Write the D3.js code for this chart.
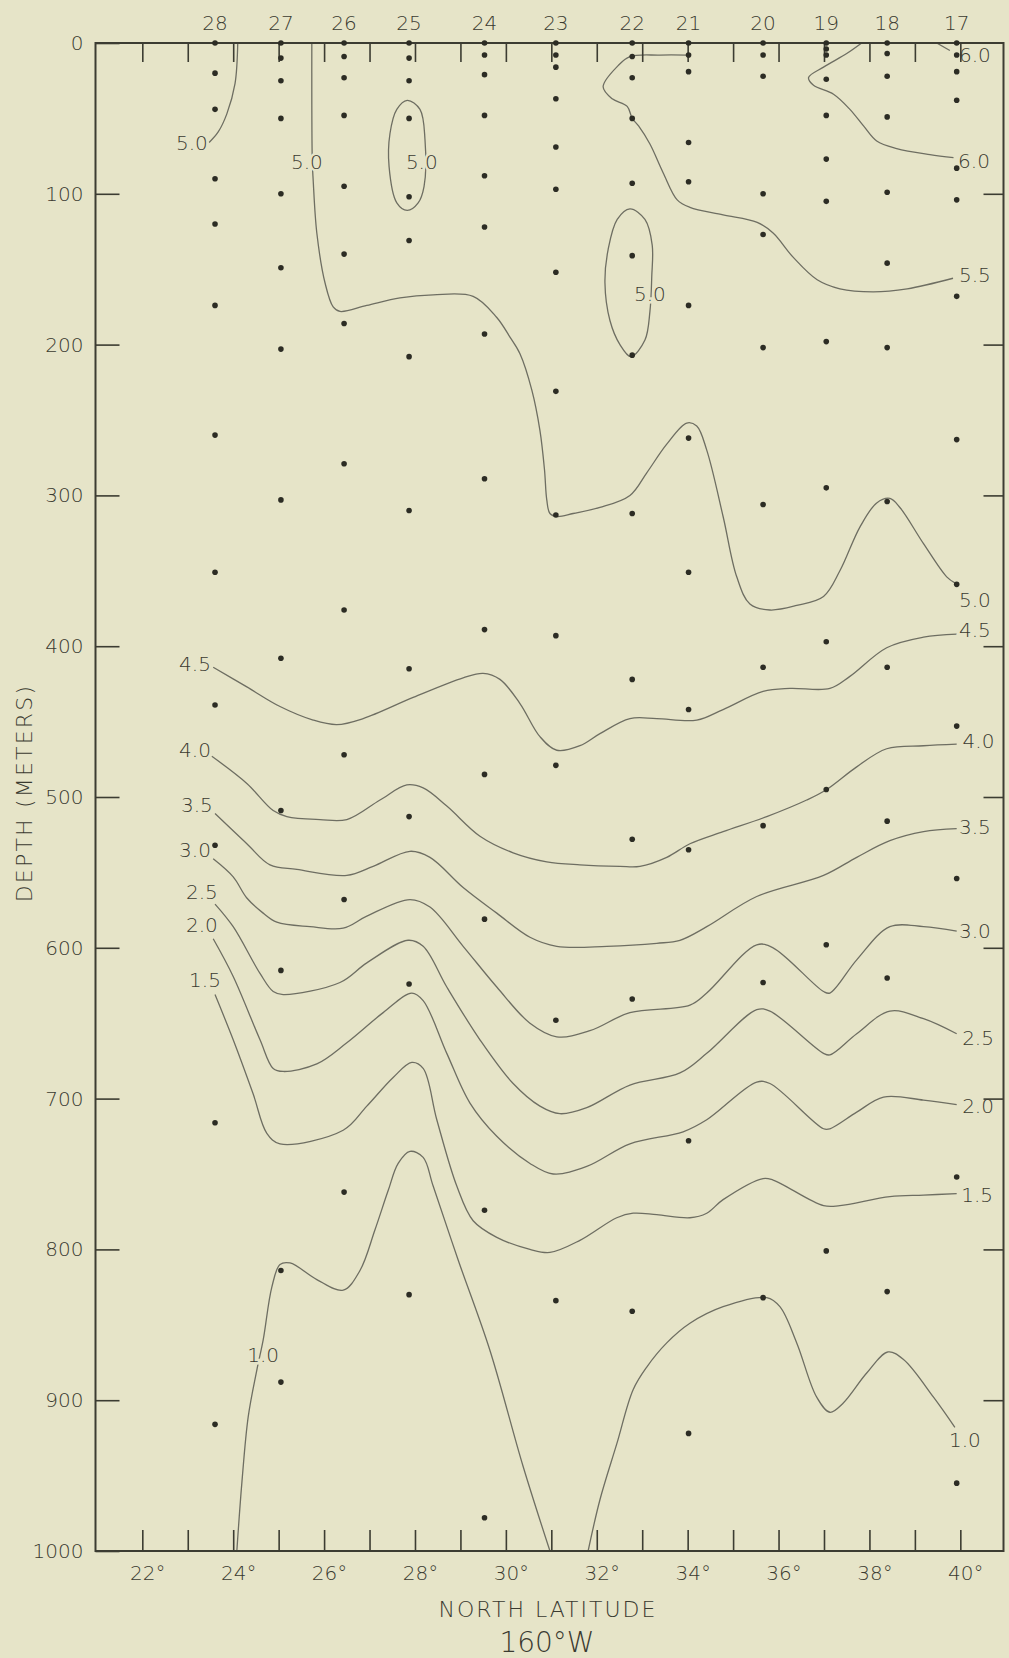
<!DOCTYPE html>
<html><head><meta charset="utf-8">
<script src="https://cdn.jsdelivr.net/npm/d3@7"></script>
<style>
html,body{margin:0;padding:0;background:#e6e4c8;}
svg{display:block;}
text{font-family:"DejaVu Sans",sans-serif;font-weight:200;fill:#3a3a30;}
</style></head><body>
<svg id="chart" width="1009" height="1658"></svg>
<script>
// ---------- data ----------
const stationIds  = [28, 27, 26, 25, 24, 23, 22, 21, 20, 19, 18, 17];
const stationLat  = [23.60, 25.05, 26.44, 27.87, 29.53, 31.10, 32.78, 34.02, 35.66, 37.05, 38.39, 39.92];
const sampleDepths = [
  [0, 20, 44, 90, 120, 174, 260, 351, 439, 532, 716, 916],
  [0, 10, 25, 50, 100, 149, 203, 303, 408, 509, 615, 814, 888],
  [0, 9, 23, 48, 95, 140, 186, 279, 376, 472, 568, 762],
  [0, 10, 25, 50, 102, 131, 208, 310, 415, 513, 624, 830],
  [0, 8, 21, 48, 88, 122, 193, 289, 389, 485, 581, 774, 978],
  [0, 8, 16, 37, 69, 97, 152, 231, 313, 393, 479, 648, 834],
  [0, 9, 23, 50, 93, 141, 207, 312, 422, 528, 634, 841],
  [0, 8, 19, 66, 92, 174, 262, 351, 442, 535, 728, 922],
  [0, 8, 22, 100, 127, 202, 306, 414, 519, 623, 832],
  [0, 4, 8, 24, 48, 77, 105, 198, 295, 397, 495, 598, 801],
  [0, 7, 22, 49, 99, 146, 202, 304, 414, 516, 620, 828],
  [0, 8, 19, 38, 83, 104, 168, 263, 359, 453, 554, 752, 955]
];
const depthTicks = [0, 100, 200, 300, 400, 500, 600, 700, 800, 900, 1000];
const latLabelTicks = [22, 24, 26, 28, 30, 32, 34, 36, 38, 40];
const latMinorTicks = [22, 23, 24, 25, 26, 27, 28, 29, 30, 31, 32, 33, 34, 35, 36, 37, 38, 39, 40];
const rightTicks = [100, 200, 300, 400, 500, 600, 700, 800, 900];

// isotherms: [latitude, depth]
const iso50a = [[24.10,0],[24.04,27],[23.86,47],[23.67,59],[23.47,66]];
const iso50b = [[25.73,0],[25.74,78],[25.76,91],[25.84,126],[26.02,159],[26.20,175],[26.35,178],[26.94,174],[27.67,169],[28.40,167],[29.28,168],[29.80,182],[30.09,195],[30.31,206],[30.57,230],[30.75,257],[30.85,283],[30.90,303],[30.97,312],[31.13,314],[31.48,312],[32.07,308],[32.73,300],[33.10,285],[33.54,266],[33.98,252],[34.20,254],[34.42,270],[34.78,314],[35.08,354],[35.37,372],[35.81,376],[36.40,373],[36.99,367],[37.35,350],[37.79,321],[38.16,305],[38.45,302],[38.67,308],[39.19,332],[39.70,354],[39.88,358]];
const iso50c = [[27.83,38],[28.11,44],[28.22,64],[28.20,95],[28.07,106],[27.83,111],[27.60,106],[27.43,82],[27.45,60],[27.60,44]];
const iso50d = [[32.73,110],[33.06,117],[33.22,134],[33.21,155],[33.17,178],[33.06,197],[32.75,208],[32.51,200],[32.29,184],[32.18,159],[32.25,137],[32.45,117]];
const iso55  = [[33.97,8],[33.39,8],[32.73,9],[32.47,15],[32.14,29],[32.34,37],[32.67,42],[32.78,50],[32.92,55],[33.17,67],[33.46,86],[33.77,104],[34.05,109],[34.78,114],[35.53,119],[35.88,126],[36.32,142],[36.85,157],[37.35,163],[38.08,165],[38.83,163],[39.84,156]];
const iso60a = [[37.83,0],[37.50,7],[36.99,16],[36.66,23],[36.77,28],[37.21,34],[37.57,44],[37.87,55],[38.16,65],[38.60,70],[39.33,74],[39.85,76]];
const iso60b = [[39.48,0],[39.77,5]];
const iso45 = [[23.56,414],[24.30,427],[25.03,440],[25.76,449],[26.28,452],[26.86,448],[27.96,434],[29.06,421],[29.50,418],[29.87,422],[30.31,438],[30.75,460],[31.12,469],[31.63,466],[32.07,458],[32.73,448],[33.32,448],[34.20,449],[34.78,442],[35.66,430],[36.25,428],[37.13,428],[37.57,420],[38.38,401],[39.19,394],[39.92,392]];
const iso40 = [[23.53,473],[24.30,491],[24.88,509],[25.18,513],[25.91,515],[26.50,515],[27.23,502],[27.82,492],[28.18,494],[28.70,506],[29.43,526],[30.16,537],[30.90,543],[31.63,545],[32.51,546],[32.95,546],[33.54,540],[34.05,531],[34.78,523],[35.74,513],[36.62,502],[37.06,495],[37.72,480],[38.38,468],[39.19,466],[39.92,465]];
const iso35 = [[23.60,511],[24.30,531],[24.81,545],[25.40,548],[26.50,552],[27.08,546],[27.89,536],[28.33,540],[29.06,560],[29.80,577],[30.53,593],[31.12,599],[32.22,599],[33.32,597],[33.83,595],[34.42,586],[35.52,566],[36.99,552],[37.72,540],[38.45,529],[39.19,523],[39.92,521]];
const iso30 = [[23.56,541],[24.00,553],[24.30,567],[24.66,577],[24.96,583],[25.69,586],[26.42,587],[26.94,579],[27.89,568],[28.33,573],[29.06,599],[29.80,626],[30.53,650],[31.12,659],[31.85,655],[32.73,643],[34.05,638],[34.42,630],[35.52,598],[35.88,600],[36.99,629],[37.13,630],[37.72,608],[38.45,586],[39.19,586],[39.92,589]];
const iso25 = [[23.60,571],[24.00,586],[24.59,617],[24.88,629],[25.10,631],[26.35,623],[26.94,610],[27.85,595],[28.18,599],[28.70,626],[29.43,661],[30.16,690],[30.75,705],[31.19,710],[31.78,706],[32.73,691],[33.83,683],[34.42,670],[35.52,641],[35.81,642],[36.99,670],[37.13,671],[37.72,657],[38.45,642],[39.19,647],[39.92,657]];
const iso20 = [[23.56,594],[24.00,619],[24.59,661],[24.88,680],[25.10,682],[25.84,677],[26.50,663],[27.30,643],[27.93,630],[28.18,635],[28.70,670],[29.21,703],[29.80,725],[30.53,743],[31.04,750],[31.78,745],[32.73,730],[33.90,722],[34.42,714],[35.52,689],[35.81,690],[36.99,720],[37.13,720],[37.72,709],[38.31,699],[39.19,701],[39.92,704]];
const iso15 = [[23.60,631],[24.00,661],[24.44,697],[24.74,723],[25.03,730],[26.42,721],[26.94,705],[27.52,686],[27.93,676],[28.18,680],[28.48,714],[28.92,758],[29.28,781],[29.80,792],[30.53,800],[30.97,802],[31.63,794],[32.44,779],[32.80,776],[33.32,777],[34.05,779],[34.42,776],[34.78,767],[35.66,753],[35.88,754],[36.99,771],[37.35,771],[38.45,765],[39.19,764],[39.92,763]];
const iso10a = [[24.08,1000],[24.19,955],[24.33,911],[24.52,880],[24.66,860],[24.85,825],[25.03,810],[25.25,809],[25.84,820],[26.42,827],[26.79,814],[27.12,787],[27.41,761],[27.63,743],[27.89,735],[28.18,739],[28.40,758],[28.95,807],[29.65,867],[30.38,944],[30.97,1000]];
const iso10b = [[31.81,1000],[32.07,966],[32.44,929],[32.80,893],[33.10,878],[33.54,862],[34.05,849],[34.78,838],[35.74,832],[36.03,838],[36.40,862],[36.84,898],[37.13,908],[37.42,902],[37.94,882],[38.41,868],[38.75,873],[39.41,898],[39.88,918]];

const isoLabels = [
  ["5.0",23.09,66],["5.0",25.62,79],["5.0",28.15,79],["5.0",33.17,166],["5.0",40.32,369],
  ["5.5",40.32,154],["6.0",40.30,78],["6.0",40.32,8],
  ["4.5",23.16,412],["4.5",40.32,389],["4.0",23.16,469],["4.0",40.40,463],
  ["3.5",23.20,505],["3.5",40.32,520],["3.0",23.16,535],["3.0",40.32,589],
  ["2.5",23.31,563],["2.5",40.39,660],["2.0",23.31,585],["2.0",40.39,705],
  ["1.5",23.38,621],["1.5",40.37,764],["1.0",24.66,870],["1.0",40.10,926]
];

// ---------- drawing ----------
const BG = "#e6e4c8", AX = "#3c3c32", CL = "#6e6e62", DOT = "#2c2c24";
const svg = d3.select("#chart");
const x = d3.scaleLinear().domain([20.97, 40.95]).range([95.5, 1003.5]);
const y = d3.scaleLinear().domain([0, 1000]).range([43, 1551]);
const [x0, x1] = x.range(), [y0, y1] = y.range();

svg.append("rect").attr("width",1009).attr("height",1658).attr("fill",BG);

svg.append("defs").append("clipPath").attr("id","plot")
  .append("rect").attr("x",x0).attr("y",y0).attr("width",x1-x0).attr("height",y1-y0);

// contours
const contours = [
  {p:iso50a},{p:iso50b},{p:iso50c,closed:true},{p:iso50d,closed:true},{p:iso55},
  {p:iso60a},{p:iso60b},{p:iso45},{p:iso40},{p:iso35},{p:iso30},{p:iso25},
  {p:iso20},{p:iso15},{p:iso10a},{p:iso10b}
];
const lineOpen = d3.line().x(d=>x(d[0])).y(d=>y(d[1])).curve(d3.curveCatmullRom.alpha(0.5));
const lineClosed = d3.line().x(d=>x(d[0])).y(d=>y(d[1])).curve(d3.curveCatmullRomClosed.alpha(0.5));
svg.append("g").attr("clip-path","url(#plot)")
  .selectAll("path").data(contours).join("path")
  .attr("d", d => (d.closed ? lineClosed : lineOpen)(d.p))
  .attr("fill","none").attr("stroke",CL).attr("stroke-width",1.3);

// contour labels (knock out the line beneath)
svg.append("g").selectAll("text").data(isoLabels).join("text")
  .attr("x", d=>x(d[1])).attr("y", d=>y(d[2])).attr("dy","0.36em")
  .attr("text-anchor","middle").attr("font-size",20)
  .attr("stroke",BG).attr("stroke-width",5).attr("paint-order","stroke")
  .text(d=>d[0]);

// frame
svg.append("rect").attr("x",x0).attr("y",y0).attr("width",x1-x0).attr("height",y1-y0)
  .attr("fill","none").attr("stroke",AX).attr("stroke-width",2);

function styleAxis(g){
  g.attr("font-size",null).attr("font-family",null);
  g.select(".domain").remove();
  g.selectAll(".tick line").attr("stroke",AX).attr("stroke-width",1.6);
  g.selectAll("text").attr("font-size",20);
}
svg.append("g").attr("transform",`translate(${x0},0)`)
  .call(d3.axisLeft(y).tickValues(depthTicks).tickSize(-24).tickPadding(12).tickSizeOuter(0)
    .tickFormat(d3.format("d")))
  .call(styleAxis);
svg.append("g").attr("transform",`translate(${x1},0)`)
  .call(d3.axisRight(y).tickValues(rightTicks).tickSize(-20).tickFormat(()=>"").tickSizeOuter(0))
  .call(styleAxis);
svg.append("g").attr("transform",`translate(0,${y1})`)
  .call(d3.axisBottom(x).tickValues(latMinorTicks).tickSize(-21).tickPadding(15).tickSizeOuter(0)
    .tickFormat(d => latLabelTicks.includes(d) ? d + "°" : ""))
  .call(styleAxis)
  .call(g => g.selectAll("text").attr("dx","0.25em"));
svg.append("g").attr("transform",`translate(0,${y0})`)
  .call(d3.axisTop(x).tickValues(latMinorTicks).tickSize(-19).tickFormat(()=>"").tickSizeOuter(0))
  .call(styleAxis);

// station numbers
svg.append("g").selectAll("text").data(stationIds).join("text")
  .attr("x",(d,i)=>x(stationLat[i])).attr("y",30).attr("text-anchor","middle")
  .attr("font-size",20).text(d=>d);

// sample dots
const dots = stationLat.flatMap((lat,i)=>sampleDepths[i].map(dep=>[lat,dep]));
svg.append("g").selectAll("circle").data(dots).join("circle")
  .attr("cx",d=>x(d[0])).attr("cy",d=>y(d[1])).attr("r",2.8).attr("fill",DOT);

// titles
svg.append("text").attr("transform","translate(31.5,793) rotate(-90)")
  .attr("text-anchor","middle").attr("font-size",22).attr("letter-spacing","2.2px")
  .text("DEPTH (METERS)");
svg.append("text").attr("x",548).attr("y",1617).attr("text-anchor","middle")
  .attr("font-size",22).attr("letter-spacing","2px").text("NORTH LATITUDE");
svg.append("text").attr("x",547).attr("y",1652).attr("text-anchor","middle")
  .attr("font-size",28).text("160°W");
</script></body></html>
